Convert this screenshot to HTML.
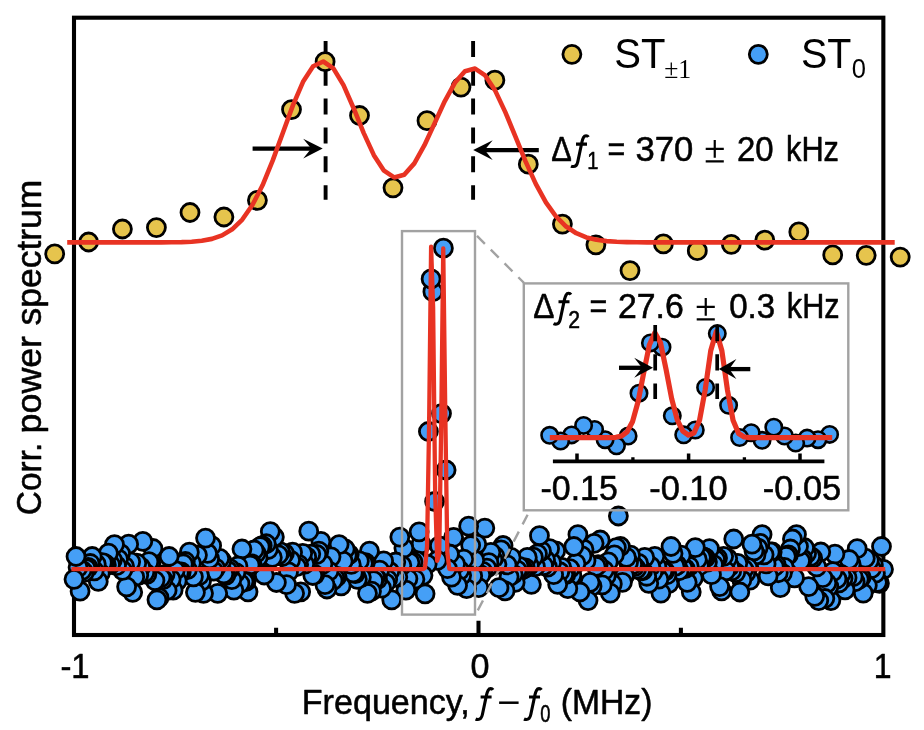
<!DOCTYPE html>
<html><head><meta charset="utf-8"><title>Corr. power spectrum</title>
<style>
html,body{margin:0;padding:0;background:#fff;}
body{width:924px;height:730px;overflow:hidden;font-family:"Liberation Sans",sans-serif;}
svg{display:block;}
</style></head><body>
<svg width="924" height="730" viewBox="0 0 924 730">
<rect x="0" y="0" width="924" height="730" fill="#fff"/>
<g fill="none" stroke="#000" stroke-width="4.1">
<rect x="74" y="17.7" width="809.35" height="617.3"/>
</g>
<g stroke="#000" stroke-width="4.05" fill="none">
<path d="M478.5 635V620.7M276.1 635V627.7M680.9 635V627.7"/>
</g>
<g stroke="#000" stroke-width="3.9" fill="none" stroke-dasharray="16 12.85">
<path d="M325.6 40.9V199.7M473.1 40.9V199.7"/>
</g>
<path d="M252.6 148.6H314.65" stroke="#000" stroke-width="4.2" fill="none"/><path d="M322.7 148.6L303.2 138.8L311.2 148.6L303.2 158.4Z" fill="#000"/>
<path d="M538.8 150.1H481.25" stroke="#000" stroke-width="4.2" fill="none"/><path d="M473.2 150.1L492.7 140.3L484.7 150.1L492.7 159.9Z" fill="#000"/>
<g fill="#E6C44D" stroke="#000" stroke-width="2.8">
<circle cx="54.7" cy="253.8" r="9"/>
<circle cx="88.6" cy="242" r="9"/>
<circle cx="122.4" cy="229" r="9"/>
<circle cx="156.4" cy="227.6" r="9"/>
<circle cx="190" cy="212.5" r="9"/>
<circle cx="223.9" cy="217" r="9"/>
<circle cx="257.4" cy="200.3" r="9"/>
<circle cx="291.5" cy="109.6" r="9"/>
<circle cx="325.1" cy="61.7" r="9"/>
<circle cx="359.5" cy="115.5" r="9"/>
<circle cx="393" cy="187.8" r="9"/>
<circle cx="427" cy="120.7" r="9"/>
<circle cx="461" cy="87.1" r="9"/>
<circle cx="494.9" cy="80.2" r="9"/>
<circle cx="528.3" cy="164.2" r="9"/>
<circle cx="562.4" cy="224.1" r="9"/>
<circle cx="595.9" cy="244.8" r="9"/>
<circle cx="630" cy="270.6" r="9"/>
<circle cx="663.4" cy="243.9" r="9"/>
<circle cx="697.3" cy="250.7" r="9"/>
<circle cx="731.3" cy="244.3" r="9"/>
<circle cx="764.8" cy="240.2" r="9"/>
<circle cx="798.8" cy="231.9" r="9"/>
<circle cx="832.7" cy="254.9" r="9"/>
<circle cx="866.2" cy="255.3" r="9"/>
<circle cx="900.2" cy="257.2" r="9"/>
<circle cx="571.9" cy="54.3" r="9"/>
</g>
<g fill="#459FF6" stroke="#000" stroke-width="2.8">
<circle cx="883.5" cy="569.3" r="9"/>
<circle cx="881.48" cy="546.5" r="9"/>
<circle cx="879.45" cy="583.3" r="9"/>
<circle cx="877.43" cy="582.3" r="9"/>
<circle cx="875.41" cy="573.21" r="9"/>
<circle cx="873.38" cy="564.9" r="9"/>
<circle cx="871.36" cy="568.72" r="9"/>
<circle cx="869.33" cy="560.54" r="9"/>
<circle cx="867.31" cy="585.5" r="9"/>
<circle cx="865.29" cy="558.19" r="9"/>
<circle cx="863.26" cy="593.1" r="9"/>
<circle cx="861.24" cy="577.37" r="9"/>
<circle cx="859.22" cy="579.1" r="9"/>
<circle cx="857.19" cy="548.7" r="9"/>
<circle cx="855.17" cy="581.75" r="9"/>
<circle cx="853.14" cy="576.74" r="9"/>
<circle cx="851.12" cy="564.01" r="9"/>
<circle cx="849.1" cy="559.5" r="9"/>
<circle cx="847.07" cy="577.74" r="9"/>
<circle cx="845.05" cy="589.8" r="9"/>
<circle cx="843.03" cy="578.62" r="9"/>
<circle cx="841" cy="574.44" r="9"/>
<circle cx="838.98" cy="582.96" r="9"/>
<circle cx="836.95" cy="578.89" r="9"/>
<circle cx="834.93" cy="554.1" r="9"/>
<circle cx="832.91" cy="571.59" r="9"/>
<circle cx="830.88" cy="600.6" r="9"/>
<circle cx="828.86" cy="586.51" r="9"/>
<circle cx="826.84" cy="583.05" r="9"/>
<circle cx="824.81" cy="598.5" r="9"/>
<circle cx="822.79" cy="577.62" r="9"/>
<circle cx="820.76" cy="552" r="9"/>
<circle cx="818.74" cy="600.6" r="9"/>
<circle cx="816.72" cy="566.94" r="9"/>
<circle cx="814.69" cy="596.3" r="9"/>
<circle cx="812.67" cy="558.19" r="9"/>
<circle cx="810.65" cy="556.3" r="9"/>
<circle cx="808.62" cy="586.6" r="9"/>
<circle cx="806.6" cy="553.31" r="9"/>
<circle cx="804.57" cy="547.77" r="9"/>
<circle cx="802.55" cy="558.75" r="9"/>
<circle cx="800.53" cy="560.84" r="9"/>
<circle cx="798.5" cy="546.5" r="9"/>
<circle cx="796.48" cy="534.6" r="9"/>
<circle cx="794.46" cy="577.9" r="9"/>
<circle cx="792.43" cy="539" r="9"/>
<circle cx="790.41" cy="548.98" r="9"/>
<circle cx="788.38" cy="554.89" r="9"/>
<circle cx="786.36" cy="556.3" r="9"/>
<circle cx="784.34" cy="567.42" r="9"/>
<circle cx="782.31" cy="573.41" r="9"/>
<circle cx="780.29" cy="587.7" r="9"/>
<circle cx="778.27" cy="572.74" r="9"/>
<circle cx="776.24" cy="564.75" r="9"/>
<circle cx="774.22" cy="566.67" r="9"/>
<circle cx="772.19" cy="552" r="9"/>
<circle cx="770.17" cy="551.93" r="9"/>
<circle cx="768.15" cy="575.8" r="9"/>
<circle cx="766.12" cy="563.96" r="9"/>
<circle cx="764.1" cy="554.79" r="9"/>
<circle cx="762.08" cy="534.6" r="9"/>
<circle cx="760.05" cy="543.3" r="9"/>
<circle cx="758.03" cy="548.14" r="9"/>
<circle cx="756" cy="554.84" r="9"/>
<circle cx="753.98" cy="550.9" r="9"/>
<circle cx="751.96" cy="544.14" r="9"/>
<circle cx="749.93" cy="580.1" r="9"/>
<circle cx="747.91" cy="567.6" r="9"/>
<circle cx="745.89" cy="572.87" r="9"/>
<circle cx="743.86" cy="569.26" r="9"/>
<circle cx="741.84" cy="579.91" r="9"/>
<circle cx="739.81" cy="592" r="9"/>
<circle cx="737.79" cy="563.35" r="9"/>
<circle cx="735.77" cy="572.59" r="9"/>
<circle cx="733.74" cy="539" r="9"/>
<circle cx="731.72" cy="570.9" r="9"/>
<circle cx="729.7" cy="566.38" r="9"/>
<circle cx="727.67" cy="558.28" r="9"/>
<circle cx="725.65" cy="570.9" r="9"/>
<circle cx="723.62" cy="556.3" r="9"/>
<circle cx="721.6" cy="590.9" r="9"/>
<circle cx="719.58" cy="586.6" r="9"/>
<circle cx="717.55" cy="557.98" r="9"/>
<circle cx="715.53" cy="559.58" r="9"/>
<circle cx="713.5" cy="564.62" r="9"/>
<circle cx="711.48" cy="574.7" r="9"/>
<circle cx="709.46" cy="548.7" r="9"/>
<circle cx="707.43" cy="562.1" r="9"/>
<circle cx="705.41" cy="557.88" r="9"/>
<circle cx="703.39" cy="556.94" r="9"/>
<circle cx="701.36" cy="557.26" r="9"/>
<circle cx="699.34" cy="565.76" r="9"/>
<circle cx="697.32" cy="559.43" r="9"/>
<circle cx="695.29" cy="547.6" r="9"/>
<circle cx="693.27" cy="578.05" r="9"/>
<circle cx="691.24" cy="592" r="9"/>
<circle cx="689.22" cy="566.24" r="9"/>
<circle cx="687.2" cy="582.3" r="9"/>
<circle cx="685.17" cy="568.59" r="9"/>
<circle cx="683.15" cy="568.18" r="9"/>
<circle cx="681.12" cy="555.2" r="9"/>
<circle cx="679.1" cy="570.74" r="9"/>
<circle cx="677.08" cy="565.04" r="9"/>
<circle cx="675.05" cy="566.42" r="9"/>
<circle cx="673.03" cy="553.47" r="9"/>
<circle cx="671.01" cy="546.5" r="9"/>
<circle cx="668.98" cy="583.3" r="9"/>
<circle cx="666.96" cy="574.76" r="9"/>
<circle cx="664.94" cy="571.05" r="9"/>
<circle cx="662.91" cy="571.22" r="9"/>
<circle cx="660.89" cy="593.1" r="9"/>
<circle cx="658.86" cy="579.17" r="9"/>
<circle cx="656.84" cy="566.66" r="9"/>
<circle cx="654.82" cy="556.3" r="9"/>
<circle cx="652.79" cy="572.27" r="9"/>
<circle cx="650.77" cy="566.26" r="9"/>
<circle cx="648.75" cy="583.3" r="9"/>
<circle cx="646.72" cy="576.26" r="9"/>
<circle cx="644.7" cy="557.4" r="9"/>
<circle cx="642.67" cy="570.74" r="9"/>
<circle cx="640.65" cy="570.48" r="9"/>
<circle cx="638.63" cy="563.36" r="9"/>
<circle cx="636.6" cy="569.2" r="9"/>
<circle cx="634.58" cy="566.54" r="9"/>
<circle cx="632.56" cy="564.6" r="9"/>
<circle cx="630.53" cy="555.2" r="9"/>
<circle cx="628.51" cy="562.53" r="9"/>
<circle cx="626.48" cy="557.4" r="9"/>
<circle cx="624.46" cy="575.8" r="9"/>
<circle cx="622.44" cy="582.3" r="9"/>
<circle cx="620.41" cy="546.5" r="9"/>
<circle cx="618.39" cy="516" r="9"/>
<circle cx="616.37" cy="547.6" r="9"/>
<circle cx="614.34" cy="554.96" r="9"/>
<circle cx="612.32" cy="583.92" r="9"/>
<circle cx="610.29" cy="593.1" r="9"/>
<circle cx="608.27" cy="561.85" r="9"/>
<circle cx="606.25" cy="575.8" r="9"/>
<circle cx="604.22" cy="570.26" r="9"/>
<circle cx="602.2" cy="584.88" r="9"/>
<circle cx="600.18" cy="540" r="9"/>
<circle cx="598.15" cy="564.68" r="9"/>
<circle cx="596.13" cy="566.33" r="9"/>
<circle cx="594.1" cy="543.3" r="9"/>
<circle cx="592.08" cy="586.18" r="9"/>
<circle cx="590.06" cy="582.3" r="9"/>
<circle cx="588.03" cy="600.6" r="9"/>
<circle cx="586.01" cy="560.68" r="9"/>
<circle cx="583.99" cy="549.3" r="9"/>
<circle cx="581.96" cy="555.94" r="9"/>
<circle cx="579.94" cy="592" r="9"/>
<circle cx="577.91" cy="534.6" r="9"/>
<circle cx="575.89" cy="563.47" r="9"/>
<circle cx="573.87" cy="546.5" r="9"/>
<circle cx="571.84" cy="575.56" r="9"/>
<circle cx="569.82" cy="568.64" r="9"/>
<circle cx="567.8" cy="588.7" r="9"/>
<circle cx="565.77" cy="574.64" r="9"/>
<circle cx="563.75" cy="574.35" r="9"/>
<circle cx="561.72" cy="567.37" r="9"/>
<circle cx="559.7" cy="571.77" r="9"/>
<circle cx="557.68" cy="584.4" r="9"/>
<circle cx="555.65" cy="550.9" r="9"/>
<circle cx="553.63" cy="574.7" r="9"/>
<circle cx="551.61" cy="562.47" r="9"/>
<circle cx="549.58" cy="548.7" r="9"/>
<circle cx="547.56" cy="567.03" r="9"/>
<circle cx="545.53" cy="559.97" r="9"/>
<circle cx="543.51" cy="565.58" r="9"/>
<circle cx="541.49" cy="551.09" r="9"/>
<circle cx="539.46" cy="535.7" r="9"/>
<circle cx="537.44" cy="553.79" r="9"/>
<circle cx="535.41" cy="566.72" r="9"/>
<circle cx="533.39" cy="557.21" r="9"/>
<circle cx="531.37" cy="584.4" r="9"/>
<circle cx="529.34" cy="565.61" r="9"/>
<circle cx="527.32" cy="557.4" r="9"/>
<circle cx="525.3" cy="567.89" r="9"/>
<circle cx="523.27" cy="569.23" r="9"/>
<circle cx="521.25" cy="567.7" r="9"/>
<circle cx="519.23" cy="566.44" r="9"/>
<circle cx="517.2" cy="570.1" r="9"/>
<circle cx="515.18" cy="582.3" r="9"/>
<circle cx="513.15" cy="574.19" r="9"/>
<circle cx="511.13" cy="557.4" r="9"/>
<circle cx="509.11" cy="576.83" r="9"/>
<circle cx="507.08" cy="564.87" r="9"/>
<circle cx="505.06" cy="590.9" r="9"/>
<circle cx="503.04" cy="545.5" r="9"/>
<circle cx="501.01" cy="549.8" r="9"/>
<circle cx="498.99" cy="587.7" r="9"/>
<circle cx="496.96" cy="564.37" r="9"/>
<circle cx="494.94" cy="556.23" r="9"/>
<circle cx="492.92" cy="559.57" r="9"/>
<circle cx="490.89" cy="552.36" r="9"/>
<circle cx="488.87" cy="562.63" r="9"/>
<circle cx="486.85" cy="568.22" r="9"/>
<circle cx="484.82" cy="528.1" r="9"/>
<circle cx="482.8" cy="571.45" r="9"/>
<circle cx="480.77" cy="574.79" r="9"/>
<circle cx="478.75" cy="587.7" r="9"/>
<circle cx="476.73" cy="544.1" r="9"/>
<circle cx="474.7" cy="560.2" r="9"/>
<circle cx="472.68" cy="575.96" r="9"/>
<circle cx="470.66" cy="545.5" r="9"/>
<circle cx="468.63" cy="526.2" r="9"/>
<circle cx="466.61" cy="588.7" r="9"/>
<circle cx="463.74" cy="559.17" r="9"/>
<circle cx="461.64" cy="575.28" r="9"/>
<circle cx="459.66" cy="570.42" r="9"/>
<circle cx="457.59" cy="585.3" r="9"/>
<circle cx="455.56" cy="564.03" r="9"/>
<circle cx="453.61" cy="537.3" r="9"/>
<circle cx="451.49" cy="577.1" r="9"/>
<circle cx="449.51" cy="554.01" r="9"/>
<circle cx="447.41" cy="568.59" r="9"/>
<circle cx="446.1" cy="470" r="9"/>
<circle cx="443.4" cy="248.2" r="9"/>
<circle cx="441.5" cy="413.6" r="9"/>
<circle cx="439.37" cy="545.8" r="9"/>
<circle cx="437.26" cy="560.39" r="9"/>
<circle cx="434.6" cy="501.5" r="9"/>
<circle cx="432.9" cy="291.7" r="9"/>
<circle cx="431.1" cy="278.9" r="9"/>
<circle cx="428.4" cy="431.5" r="9"/>
<circle cx="427.17" cy="564.03" r="9"/>
<circle cx="425.07" cy="593.81" r="9"/>
<circle cx="423" cy="575.28" r="9"/>
<circle cx="421.1" cy="543.98" r="9"/>
<circle cx="419.1" cy="531.83" r="9"/>
<circle cx="416.92" cy="560.69" r="9"/>
<circle cx="414.93" cy="579.23" r="9"/>
<circle cx="412.95" cy="561.91" r="9"/>
<circle cx="409.94" cy="562.45" r="9"/>
<circle cx="407.92" cy="578.74" r="9"/>
<circle cx="405.9" cy="590.1" r="9"/>
<circle cx="403.87" cy="548.08" r="9"/>
<circle cx="401.85" cy="565.32" r="9"/>
<circle cx="399.82" cy="537.1" r="9"/>
<circle cx="397.8" cy="577.09" r="9"/>
<circle cx="395.78" cy="562" r="9"/>
<circle cx="393.75" cy="577.59" r="9"/>
<circle cx="391.73" cy="599.8" r="9"/>
<circle cx="389.71" cy="571.51" r="9"/>
<circle cx="387.68" cy="579.5" r="9"/>
<circle cx="385.66" cy="583.16" r="9"/>
<circle cx="383.63" cy="560.9" r="9"/>
<circle cx="381.61" cy="588.16" r="9"/>
<circle cx="379.59" cy="570.22" r="9"/>
<circle cx="377.56" cy="579.49" r="9"/>
<circle cx="375.54" cy="577.35" r="9"/>
<circle cx="373.52" cy="580.64" r="9"/>
<circle cx="371.49" cy="591.2" r="9"/>
<circle cx="369.47" cy="551.1" r="9"/>
<circle cx="367.44" cy="593.3" r="9"/>
<circle cx="365.42" cy="562.56" r="9"/>
<circle cx="363.4" cy="563.3" r="9"/>
<circle cx="361.37" cy="577.35" r="9"/>
<circle cx="359.35" cy="560.9" r="9"/>
<circle cx="357.33" cy="579.3" r="9"/>
<circle cx="355.3" cy="573.54" r="9"/>
<circle cx="353.28" cy="572.81" r="9"/>
<circle cx="351.25" cy="564.45" r="9"/>
<circle cx="349.23" cy="554.39" r="9"/>
<circle cx="347.21" cy="555.6" r="9"/>
<circle cx="345.18" cy="549" r="9"/>
<circle cx="343.16" cy="561.21" r="9"/>
<circle cx="341.14" cy="585.8" r="9"/>
<circle cx="339.11" cy="544.6" r="9"/>
<circle cx="337.09" cy="576.4" r="9"/>
<circle cx="335.06" cy="578.13" r="9"/>
<circle cx="333.04" cy="580.5" r="9"/>
<circle cx="331.02" cy="556.79" r="9"/>
<circle cx="328.99" cy="571.06" r="9"/>
<circle cx="326.97" cy="589" r="9"/>
<circle cx="324.95" cy="584.7" r="9"/>
<circle cx="322.92" cy="564.05" r="9"/>
<circle cx="320.9" cy="541.4" r="9"/>
<circle cx="318.87" cy="551.1" r="9"/>
<circle cx="316.85" cy="554.5" r="9"/>
<circle cx="314.83" cy="574.53" r="9"/>
<circle cx="312.8" cy="575.5" r="9"/>
<circle cx="310.78" cy="554.06" r="9"/>
<circle cx="308.75" cy="531.2" r="9"/>
<circle cx="306.73" cy="556.96" r="9"/>
<circle cx="304.71" cy="564.04" r="9"/>
<circle cx="302.68" cy="553.3" r="9"/>
<circle cx="300.66" cy="591.8" r="9"/>
<circle cx="298.64" cy="564.42" r="9"/>
<circle cx="296.61" cy="566.64" r="9"/>
<circle cx="294.59" cy="593.3" r="9"/>
<circle cx="292.57" cy="552.2" r="9"/>
<circle cx="290.54" cy="560.12" r="9"/>
<circle cx="288.52" cy="571.97" r="9"/>
<circle cx="286.49" cy="584.65" r="9"/>
<circle cx="284.47" cy="553.35" r="9"/>
<circle cx="282.45" cy="556.5" r="9"/>
<circle cx="280.42" cy="551.94" r="9"/>
<circle cx="278.4" cy="554.92" r="9"/>
<circle cx="276.38" cy="582.5" r="9"/>
<circle cx="274.35" cy="537.1" r="9"/>
<circle cx="272.33" cy="557.42" r="9"/>
<circle cx="270.3" cy="531.6" r="9"/>
<circle cx="268.28" cy="549.49" r="9"/>
<circle cx="266.26" cy="543.76" r="9"/>
<circle cx="264.23" cy="575" r="9"/>
<circle cx="262.21" cy="545.7" r="9"/>
<circle cx="260.19" cy="546.69" r="9"/>
<circle cx="258.16" cy="557.4" r="9"/>
<circle cx="256.14" cy="553.04" r="9"/>
<circle cx="254.11" cy="550" r="9"/>
<circle cx="252.09" cy="564.02" r="9"/>
<circle cx="250.07" cy="564.98" r="9"/>
<circle cx="248.04" cy="591.8" r="9"/>
<circle cx="246.02" cy="581.43" r="9"/>
<circle cx="244" cy="581.54" r="9"/>
<circle cx="241.97" cy="549" r="9"/>
<circle cx="239.95" cy="583.6" r="9"/>
<circle cx="237.92" cy="565.98" r="9"/>
<circle cx="235.9" cy="572.58" r="9"/>
<circle cx="233.88" cy="590.1" r="9"/>
<circle cx="231.85" cy="579.56" r="9"/>
<circle cx="229.83" cy="568.55" r="9"/>
<circle cx="227.81" cy="570.64" r="9"/>
<circle cx="225.78" cy="575.44" r="9"/>
<circle cx="223.76" cy="573.94" r="9"/>
<circle cx="221.73" cy="560.9" r="9"/>
<circle cx="219.71" cy="558.37" r="9"/>
<circle cx="217.69" cy="593.3" r="9"/>
<circle cx="215.66" cy="568.16" r="9"/>
<circle cx="213.64" cy="571.19" r="9"/>
<circle cx="211.62" cy="545.7" r="9"/>
<circle cx="209.59" cy="558.78" r="9"/>
<circle cx="207.57" cy="553.3" r="9"/>
<circle cx="205.54" cy="538.1" r="9"/>
<circle cx="203.52" cy="593.3" r="9"/>
<circle cx="201.5" cy="581.14" r="9"/>
<circle cx="199.47" cy="575.48" r="9"/>
<circle cx="197.45" cy="555.07" r="9"/>
<circle cx="195.43" cy="592.3" r="9"/>
<circle cx="193.4" cy="576.83" r="9"/>
<circle cx="191.38" cy="563.06" r="9"/>
<circle cx="189.35" cy="552.2" r="9"/>
<circle cx="187.33" cy="569.65" r="9"/>
<circle cx="185.31" cy="561.49" r="9"/>
<circle cx="183.28" cy="563.96" r="9"/>
<circle cx="181.26" cy="571.91" r="9"/>
<circle cx="179.24" cy="572.64" r="9"/>
<circle cx="177.21" cy="580.85" r="9"/>
<circle cx="175.19" cy="570.49" r="9"/>
<circle cx="173.16" cy="590.1" r="9"/>
<circle cx="171.14" cy="579.26" r="9"/>
<circle cx="169.12" cy="556.5" r="9"/>
<circle cx="167.09" cy="590.5" r="9"/>
<circle cx="165.07" cy="574.48" r="9"/>
<circle cx="163.05" cy="579.62" r="9"/>
<circle cx="161.02" cy="577.58" r="9"/>
<circle cx="159" cy="597.7" r="9"/>
<circle cx="156.97" cy="599.8" r="9"/>
<circle cx="154.95" cy="580.59" r="9"/>
<circle cx="152.93" cy="548.5" r="9"/>
<circle cx="150.9" cy="563.24" r="9"/>
<circle cx="148.88" cy="561.65" r="9"/>
<circle cx="146.86" cy="574.37" r="9"/>
<circle cx="144.83" cy="572.54" r="9"/>
<circle cx="142.81" cy="541.4" r="9"/>
<circle cx="140.78" cy="567.21" r="9"/>
<circle cx="138.76" cy="575.04" r="9"/>
<circle cx="136.74" cy="563.14" r="9"/>
<circle cx="134.71" cy="576.94" r="9"/>
<circle cx="132.69" cy="592.3" r="9"/>
<circle cx="130.67" cy="561.8" r="9"/>
<circle cx="128.64" cy="544.2" r="9"/>
<circle cx="126.62" cy="586.8" r="9"/>
<circle cx="124.59" cy="566.34" r="9"/>
<circle cx="122.57" cy="570.31" r="9"/>
<circle cx="120.55" cy="553.53" r="9"/>
<circle cx="118.52" cy="559.15" r="9"/>
<circle cx="116.5" cy="565.68" r="9"/>
<circle cx="114.47" cy="544.6" r="9"/>
<circle cx="112.45" cy="559.82" r="9"/>
<circle cx="110.43" cy="564.67" r="9"/>
<circle cx="108.4" cy="553.11" r="9"/>
<circle cx="106.38" cy="564.98" r="9"/>
<circle cx="104.36" cy="563.31" r="9"/>
<circle cx="102.33" cy="562.65" r="9"/>
<circle cx="100.31" cy="573.23" r="9"/>
<circle cx="98.28" cy="581.4" r="9"/>
<circle cx="96.26" cy="564.09" r="9"/>
<circle cx="94.24" cy="570.82" r="9"/>
<circle cx="92.21" cy="556.5" r="9"/>
<circle cx="90.19" cy="563.48" r="9"/>
<circle cx="88.17" cy="567.32" r="9"/>
<circle cx="86.14" cy="568.48" r="9"/>
<circle cx="84.12" cy="572.63" r="9"/>
<circle cx="82.09" cy="570.43" r="9"/>
<circle cx="80.07" cy="591.2" r="9"/>
<circle cx="78.05" cy="567.36" r="9"/>
<circle cx="76.02" cy="556.5" r="9"/>
<circle cx="74" cy="579.3" r="9"/>
<circle cx="758.3" cy="54.3" r="9"/>
</g>
<g fill="none" stroke="#A2A2A2" stroke-width="2.4">
<rect x="402" y="231.1" width="73" height="383.5"/>
<rect x="523.8" y="283.4" width="324.5" height="226.9"/>
<path d="M476.2 235.1L524.1 283" stroke-dasharray="11.2 8.3" stroke-dashoffset="18.4"/>
<path d="M475.8 614.2L527.6 514.8" stroke-dasharray="11.2 8.2" stroke-dashoffset="15.1"/>
</g>
<g fill="none" stroke="#E83323" stroke-width="4.6" stroke-linejoin="round">
<polyline points="67.2,242.4 70.26,242.4 80.38,242.4 90.5,242.4 100.62,242.4 110.74,242.4 120.86,242.4 130.98,242.4 141.1,242.4 151.22,242.39 161.34,242.36 171.46,242.29 181.58,242.1 191.7,241.68 201.82,240.75 211.94,238.88 222.06,235.38 232.18,229.3 242.3,219.53 252.42,205.02 262.54,185.26 272.66,160.66 282.78,132.99 292.9,105.38 303.02,81.81 313.14,66.26 323.26,61.52 333.38,68.33 343.5,85.09 353.62,108.23 363.74,133.11 373.86,155.15 383.98,170.68 394.1,177.46 404.22,174.78 414.34,163.38 424.46,145.24 434.58,123.34 444.7,101.27 454.82,82.8 464.94,71.17 475.06,68.53 485.18,75.45 495.3,90.86 505.42,112.38 515.54,136.96 525.66,161.59 535.78,183.86 545.9,202.32 556.02,216.47 566.14,226.54 576.26,233.23 586.38,237.39 596.5,239.81 606.62,241.14 616.74,241.82 626.86,242.15 636.98,242.3 647.1,242.36 657.22,242.39 667.34,242.39 677.46,242.4 687.58,242.4 697.7,242.4 707.82,242.4 717.94,242.4 728.06,242.4 738.18,242.4 748.3,242.4 758.42,242.4 768.54,242.4 778.66,242.4 788.78,242.4 798.9,242.4 809.02,242.4 819.14,242.4 829.26,242.4 839.38,242.4 849.5,242.4 859.62,242.4 869.74,242.4 879.86,242.4 889.98,242.4 894.7,242.4"/>
<polyline stroke-width="4.3" points="71.4,569.2 419,569.2 418.96,569.2 420.98,569.2 423.01,569.17 425.03,567.91 427.05,546.52 429.08,426.46 431.1,246.55 433.12,307.24 435.15,492.8 437.17,560.87 439.2,554.36 441.22,424.31 443.24,248.39 445.27,411.39 447.29,551.95 449.31,568.78 451.34,569.2 453.36,569.2 455.39,569.2 885.2,569.2"/>
</g>
<g stroke="#000" fill="none">
<path d="M552.9 461.3H824.4" stroke-width="3.7"/>
<path d="M577 461.4V453.5M688.6 461.4V453.5M800 461.4V453.5" stroke-width="3.5"/>
<path d="M632.9 461.4V457.2M744.4 461.4V457.2" stroke-width="3.3"/>
</g>
<g fill="#459FF6" stroke="#000" stroke-width="2.6">
<circle cx="829.6" cy="434.4" r="8.2"/>
<circle cx="818" cy="439.7" r="8.2"/>
<circle cx="807.1" cy="438.1" r="8.2"/>
<circle cx="795.7" cy="443" r="8.2"/>
<circle cx="784.5" cy="436" r="8.2"/>
<circle cx="773.8" cy="427.2" r="8.2"/>
<circle cx="762.1" cy="440.3" r="8.2"/>
<circle cx="751.2" cy="432.7" r="8.2"/>
<circle cx="739.6" cy="437.5" r="8.2"/>
<circle cx="728.6" cy="405.3" r="8.2"/>
<circle cx="717.3" cy="333.6" r="8.2"/>
<circle cx="705.6" cy="387.4" r="8.2"/>
<circle cx="695.3" cy="430" r="8.2"/>
<circle cx="683.7" cy="434.8" r="8.2"/>
<circle cx="672.3" cy="415.8" r="8.2"/>
<circle cx="662" cy="347.2" r="8.2"/>
<circle cx="650.4" cy="342.9" r="8.2"/>
<circle cx="639" cy="393.2" r="8.2"/>
<circle cx="628.1" cy="436" r="8.2"/>
<circle cx="616.5" cy="445.8" r="8.2"/>
<circle cx="605.1" cy="439.7" r="8.2"/>
<circle cx="594.6" cy="429.4" r="8.2"/>
<circle cx="583.6" cy="425.4" r="8.2"/>
<circle cx="571.6" cy="434.9" r="8.2"/>
<circle cx="560.6" cy="441" r="8.2"/>
<circle cx="549.7" cy="435.3" r="8.2"/>
</g>
<polyline fill="none" stroke="#E83323" stroke-width="5.2" stroke-linejoin="round" points="549.8,437.7 554.48,437.7 560.06,437.7 565.64,437.7 571.22,437.7 576.8,437.7 582.38,437.7 587.96,437.7 593.54,437.7 599.12,437.7 604.7,437.69 610.28,437.63 615.86,437.33 621.44,436.06 627.02,431.92 632.6,421.43 638.18,401.22 643.76,372.54 649.34,344.99 654.92,332.63 660.5,342.85 666.08,369.49 671.66,398.63 677.24,419.87 682.82,431.14 688.4,435.13 693.98,433.01 699.56,420.21 705.14,390.12 710.72,350.76 716.3,331.4 721.88,350.76 727.46,390.13 733.04,420.29 738.62,433.44 744.2,437 749.78,437.62 755.36,437.69 760.94,437.7 766.52,437.7 772.1,437.7 777.68,437.7 783.26,437.7 788.84,437.7 794.42,437.7 800,437.7 805.58,437.7 811.16,437.7 816.74,437.7 822.32,437.7 827.9,437.7 832.2,437.7"/>
<path d="M655.2 325V399M717.2 325V399" stroke="#000" stroke-width="3.7" fill="none" stroke-dasharray="16.3 12.9"/>
<path d="M619 367.8H645.3" stroke="#000" stroke-width="4.3" fill="none"/><path d="M653 367.8L634.2 357.8L642 367.8L634.2 377.8Z" fill="#000"/>
<path d="M750.3 369.1H726.15" stroke="#000" stroke-width="4.3" fill="none"/><path d="M718.8 369.1L736.4 359.1L729.3 369.1L736.4 379.1Z" fill="#000"/>
<g fill="#000" stroke="#000" stroke-width="0.55" stroke-linejoin="round" opacity="0.999">
<text x="60.4" y="677.8" font-family="'Liberation Sans', sans-serif" font-size="35.5" textLength="29.2" lengthAdjust="spacingAndGlyphs">-1</text>
<text x="470.4" y="677.8" font-family="'Liberation Sans', sans-serif" font-size="35.5" textLength="19" lengthAdjust="spacingAndGlyphs">0</text>
<text x="873.8" y="677.8" font-family="'Liberation Sans', sans-serif" font-size="35.5" textLength="17.8" lengthAdjust="spacingAndGlyphs">1</text>
<text x="301.8" y="713.6" font-family="'Liberation Sans', sans-serif" font-size="34.5" textLength="168" lengthAdjust="spacingAndGlyphs">Frequency,</text>
<path transform="translate(474.8 713.5)" d="M18.2 -23.6C17.2 -25.3 14.6 -25.5 13.4 -23.3C12.6 -21.8 12.2 -20.5 11.8 -18.85L7.6 1C7 3.8 5.6 6 3.1 5.95C2.2 5.95 1.4 5.8 0.8 5.5M5.8 -16.45H16.8" fill="none" stroke="#000" stroke-width="3.1"/>
<path transform="translate(523.2 713.5)" d="M18.2 -23.6C17.2 -25.3 14.6 -25.5 13.4 -23.3C12.6 -21.8 12.2 -20.5 11.8 -18.85L7.6 1C7 3.8 5.6 6 3.1 5.95C2.2 5.95 1.4 5.8 0.8 5.5M5.8 -16.45H16.8" fill="none" stroke="#000" stroke-width="3.1"/>
<text x="540.2" y="722.4" font-family="'Liberation Sans', sans-serif" font-size="24" textLength="10.2" lengthAdjust="spacingAndGlyphs">0</text>
<text x="560.8" y="713.6" font-family="'Liberation Sans', sans-serif" font-size="34.5" textLength="91.6" lengthAdjust="spacingAndGlyphs">(MHz)</text>
<text stroke="none" x="614.2" y="68" font-family="'Liberation Sans', sans-serif" font-size="42" textLength="51.2" lengthAdjust="spacingAndGlyphs">ST</text>
<text stroke="none" x="664.2" y="77.8" font-family="'Liberation Serif', serif" font-size="28" textLength="27" lengthAdjust="spacingAndGlyphs">&#177;1</text>
<text stroke="none" x="801" y="68" font-family="'Liberation Sans', sans-serif" font-size="42" textLength="50.4" lengthAdjust="spacingAndGlyphs">ST</text>
<text stroke="none" x="851.8" y="77.8" font-family="'Liberation Sans', sans-serif" font-size="27.6" textLength="14.2" lengthAdjust="spacingAndGlyphs">0</text>
<text x="551.2" y="160.6" font-family="'Liberation Sans', sans-serif" font-size="35" textLength="20.6" lengthAdjust="spacingAndGlyphs">&#916;</text>
<path transform="translate(570.2 160.6)" d="M18.2 -23.6C17.2 -25.3 14.6 -25.5 13.4 -23.3C12.6 -21.8 12.2 -20.5 11.8 -18.85L7.6 1C7 3.8 5.6 6 3.1 5.95C2.2 5.95 1.4 5.8 0.8 5.5M5.8 -16.45H16.8" fill="none" stroke="#000" stroke-width="3.1"/>
<text x="587.2" y="169" font-family="'Liberation Sans', sans-serif" font-size="23" textLength="11.2" lengthAdjust="spacingAndGlyphs">1</text>
<text x="607.4" y="160.6" font-family="'Liberation Sans', sans-serif" font-size="35" textLength="17.8" lengthAdjust="spacingAndGlyphs">=</text>
<text x="635.4" y="160.6" font-family="'Liberation Sans', sans-serif" font-size="35.5" textLength="57.8" lengthAdjust="spacingAndGlyphs">370</text>
<path transform="translate(0 0)" d="M705.7 148.9H723.8M714.75 139.9V157.7M705.7 161.3H723.8" fill="none" stroke="#000" stroke-width="2.2"/>
<text x="737" y="160.6" font-family="'Liberation Sans', sans-serif" font-size="35.5" textLength="36.6" lengthAdjust="spacingAndGlyphs">20</text>
<text x="786" y="160.6" font-family="'Liberation Sans', sans-serif" font-size="35" textLength="53" lengthAdjust="spacingAndGlyphs">kHz</text>
<text x="533.2" y="318.2" font-family="'Liberation Sans', sans-serif" font-size="35" textLength="21.2" lengthAdjust="spacingAndGlyphs">&#916;</text>
<path transform="translate(552.7 318.2)" d="M18.2 -23.6C17.2 -25.3 14.6 -25.5 13.4 -23.3C12.6 -21.8 12.2 -20.5 11.8 -18.85L7.6 1C7 3.8 5.6 6 3.1 5.95C2.2 5.95 1.4 5.8 0.8 5.5M5.8 -16.45H16.8" fill="none" stroke="#000" stroke-width="3.1"/>
<text x="568.2" y="327.8" font-family="'Liberation Sans', sans-serif" font-size="23" textLength="11.8" lengthAdjust="spacingAndGlyphs">2</text>
<text x="589.4" y="318.2" font-family="'Liberation Sans', sans-serif" font-size="35" textLength="17.8" lengthAdjust="spacingAndGlyphs">=</text>
<text x="618" y="318.2" font-family="'Liberation Sans', sans-serif" font-size="35.5" textLength="65.8" lengthAdjust="spacingAndGlyphs">27.6</text>
<path transform="translate(-9 158)" d="M705.7 148.9H723.8M714.75 139.9V157.7M705.7 161.3H723.8" fill="none" stroke="#000" stroke-width="2.2"/>
<text x="729.2" y="318.2" font-family="'Liberation Sans', sans-serif" font-size="35.5" textLength="46" lengthAdjust="spacingAndGlyphs">0.3</text>
<text x="786.8" y="318.2" font-family="'Liberation Sans', sans-serif" font-size="35" textLength="52.8" lengthAdjust="spacingAndGlyphs">kHz</text>
<text x="540.6" y="500.2" font-family="'Liberation Sans', sans-serif" font-size="35.5" textLength="77.2" lengthAdjust="spacingAndGlyphs">-0.15</text>
<text x="649.2" y="500.2" font-family="'Liberation Sans', sans-serif" font-size="35.5" textLength="78.4" lengthAdjust="spacingAndGlyphs">-0.10</text>
<text x="762.8" y="500.2" font-family="'Liberation Sans', sans-serif" font-size="35.5" textLength="78.4" lengthAdjust="spacingAndGlyphs">-0.05</text>
<g transform="translate(41.3 514.2) rotate(-90)"><text x="-1" y="0" font-family="'Liberation Sans', sans-serif" font-size="34.5" textLength="72.4" lengthAdjust="spacingAndGlyphs">Corr.</text></g>
<g transform="translate(41.3 431.4) rotate(-90)"><text x="-2" y="0" font-family="'Liberation Sans', sans-serif" font-size="34.5" textLength="97.4" lengthAdjust="spacingAndGlyphs">power</text></g>
<g transform="translate(41.3 324.4) rotate(-90)"><text x="-1" y="0" font-family="'Liberation Sans', sans-serif" font-size="34.5" textLength="145.6" lengthAdjust="spacingAndGlyphs">spectrum</text></g>
<path d="M499.1 702.7H518.6" stroke="#000" stroke-width="2.5"/>
</g>
</svg>
</body></html>
